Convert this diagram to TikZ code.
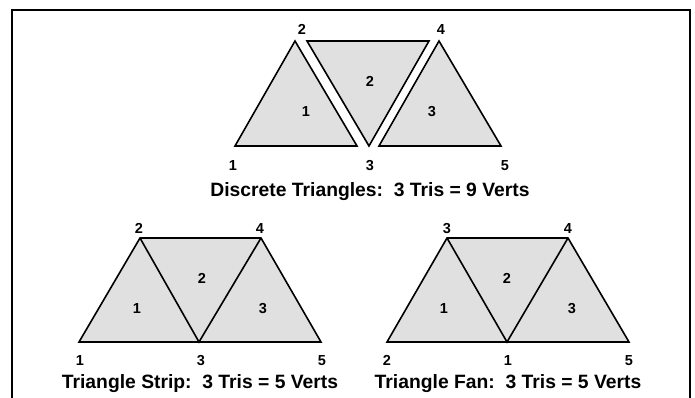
\documentclass[tikz,border=0pt]{standalone}
\usepackage{fontspec}
\setmainfont{Liberation Sans}
\begin{document}
\begin{tikzpicture}[x=1pt,y=-1pt,
  tri/.style={draw=black,fill=triGray,line width=1.6pt,line join=miter},
  vlab/.style={font=\bfseries\fontsize{14.5}{14.5}\selectfont,inner sep=0pt,anchor=base},
  caption/.style={font=\bfseries\fontsize{19.3}{19.3}\selectfont,inner sep=0pt,anchor=base}]
\definecolor{triGray}{RGB}{224,224,224}
\useasboundingbox (0,0) rectangle (695,398);
% frame
\draw[line width=1.6pt] (12,400) -- (12,10) -- (690,10) -- (690,400);

% ---------- Discrete triangles ----------
\coordinate (da1) at (235,146); \coordinate (da2) at (295,41); \coordinate (da3) at (357,146);
\coordinate (db1) at (307,41); \coordinate (db2) at (429,41); \coordinate (db3) at (369,146);
\coordinate (dc1) at (379,146); \coordinate (dc2) at (439,41); \coordinate (dc3) at (501,146);
\draw[tri] (da1) -- (da2) -- (da3) -- cycle;
\draw[tri] (db1) -- (db2) -- (db3) -- cycle;
\draw[tri] (dc1) -- (dc2) -- (dc3) -- cycle;
\node[vlab] (dt1) at (306,117) {1};
\node[vlab] (dt2) at (370,87) {2};
\node[vlab] (dt3) at (432,117) {3};
\node[vlab] (dv2) at (302,35) {2};
\node[vlab] (dv4) at (441,35) {4};
\node[vlab] (dv1) at (233,171) {1};
\node[vlab] (dv3) at (370,171) {3};
\node[vlab] (dv5) at (505,171) {5};
\node[caption] (dcap) at (370,196) {Discrete Triangles:\ \ 3 Tris = 9 Verts};

% ---------- Triangle strip ----------
\coordinate (s1) at (79,342); \coordinate (s2) at (140,238); \coordinate (s3) at (199,342);
\coordinate (s4) at (261,238); \coordinate (s5) at (321,342);
\draw[tri] (s1) -- (s2) -- (s4) -- (s5) -- cycle;
\draw[line width=1.6pt] (s2) -- (s3) -- (s4);
\node[vlab] (st1) at (137,313) {1};
\node[vlab] (st2) at (202,283) {2};
\node[vlab] (st3) at (263,313) {3};
\node[vlab] (sv2) at (139,233) {2};
\node[vlab] (sv4) at (260,233) {4};
\node[vlab] (sv1) at (80,365) {1};
\node[vlab] (sv3) at (201,365) {3};
\node[vlab] (sv5) at (322,365) {5};
\node[caption] (scap) at (200,388) {Triangle Strip:\ \ 3 Tris = 5 Verts};

% ---------- Triangle fan ----------
\coordinate (f2) at (387,342); \coordinate (f3) at (447,238); \coordinate (f1) at (507,342);
\coordinate (f4) at (568,238); \coordinate (f5) at (629,342);
\draw[tri] (f2) -- (f3) -- (f4) -- (f5) -- cycle;
\draw[line width=1.6pt] (f3) -- (f1) -- (f4);
\node[vlab] (ft1) at (444,313) {1};
\node[vlab] (ft2) at (507,283) {2};
\node[vlab] (ft3) at (572,313) {3};
\node[vlab] (fv3) at (447,233) {3};
\node[vlab] (fv4) at (568,233) {4};
\node[vlab] (fv2) at (387,365) {2};
\node[vlab] (fv1) at (508,365) {1};
\node[vlab] (fv5) at (629,365) {5};
\node[caption] (fcap) at (508,388) {Triangle Fan:\ \ 3 Tris = 5 Verts};
\end{tikzpicture}
\end{document}
